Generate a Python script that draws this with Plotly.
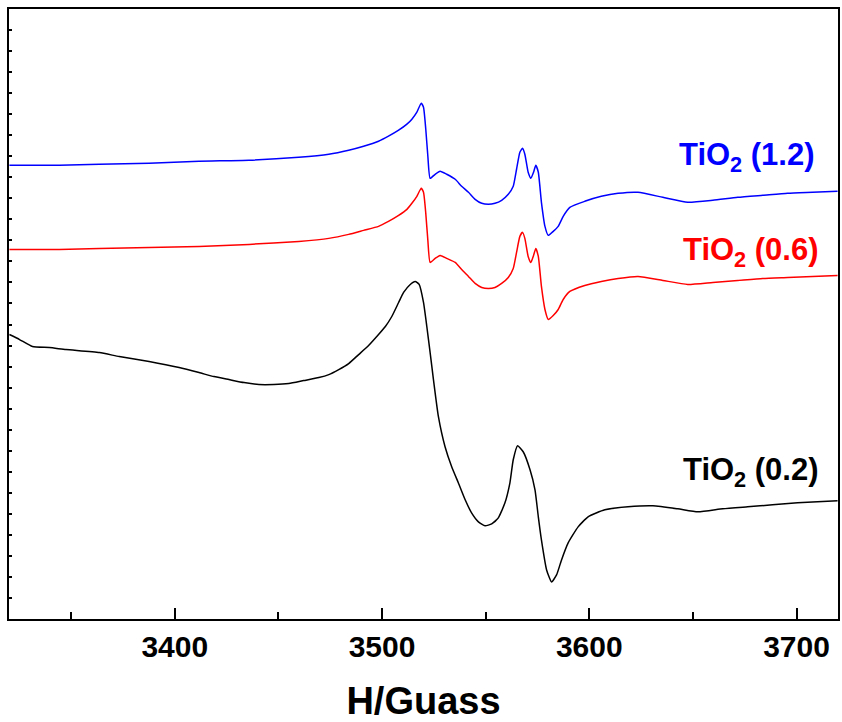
import plotly.graph_objects as go

# Magnetic field (Gauss) and EPR signal intensity (arbitrary units)
field_hi = [3320.2, 3344.3, 3363.6, 3387.6, 3411.7, 3435.8, 3459.8, 3474.3, 3483.9, 3491.1,
            3498.3, 3503.1, 3508.0, 3512.0, 3514.4, 3516.8, 3518.9, 3520.0, 3521.1, 3522.1,
            3523.2, 3525.6, 3528.0, 3531.2, 3535.3, 3538.4, 3541.7, 3544.9, 3548.1, 3551.3,
            3554.5, 3557.7, 3560.9, 3563.3, 3564.9, 3566.5, 3567.8, 3568.9, 3570.5, 3571.8,
            3573.1, 3574.2, 3575.4, 3576.9, 3578.6, 3580.2, 3582.6, 3585.0, 3587.4, 3590.6,
            3597.8, 3605.8, 3613.9, 3623.5, 3635.5, 3647.5, 3659.6, 3671.6, 3683.7, 3695.7,
            3707.7, 3719.8]
tio2_12 = [453, 453, 454, 455, 457, 458, 461, 464, 468, 472,
           477, 482, 488, 494, 499, 506, 515, 511, 489, 462,
           440, 444, 447, 444, 439, 432, 426, 419, 415, 414,
           415, 418, 424, 432, 449, 466, 470, 464, 446, 440,
           446, 453, 446, 416, 392, 383, 387, 392, 402, 411,
           417, 422, 425, 426, 421, 416, 418, 421, 423, 425,
           426, 427]
tio2_06 = [369, 369, 370, 371, 372, 374, 377, 380, 384, 388,
           392, 397, 403, 409, 415, 422, 430, 426, 405, 378,
           356, 360, 363, 360, 356, 349, 342, 335, 331, 330,
           331, 335, 341, 350, 366, 382, 386, 380, 362, 356,
           363, 370, 362, 332, 309, 299, 303, 309, 319, 327,
           333, 337, 340, 342, 338, 334, 336, 338, 340, 341,
           342, 343]

field_lo = [3320.2, 3325.1, 3331.3, 3339.5, 3347.5, 3363.6, 3373.2, 3387.6, 3402.1, 3411.7,
            3418.9, 3426.1, 3433.4, 3440.6, 3447.8, 3455.0, 3462.2, 3469.5, 3474.3, 3479.1,
            3483.9, 3488.7, 3493.5, 3498.3, 3501.6, 3504.7, 3508.0, 3510.4, 3513.6, 3516.0,
            3517.9, 3520.0, 3521.6, 3523.2, 3524.8, 3527.2, 3530.4, 3533.6, 3536.8, 3540.1,
            3543.2, 3546.5, 3549.7, 3552.9, 3556.1, 3559.3, 3561.7, 3563.3, 3565.4, 3568.1,
            3571.4, 3573.8, 3575.4, 3576.9, 3579.4, 3581.8, 3584.2, 3586.6, 3589.8, 3594.6,
            3599.4, 3607.5, 3618.7, 3630.7, 3642.7, 3652.4, 3664.4, 3676.4, 3688.4, 3700.5,
            3710.1, 3719.8]
tio2_02 = [284, 279, 272, 271, 269, 266, 262, 257, 251, 246,
           242, 239, 236, 234, 234, 235, 238, 241, 244, 249,
           255, 264, 273, 284, 292, 302, 316, 326, 334, 337,
           334, 316, 292, 266, 239, 202, 172, 152, 136, 119,
           106, 97, 93, 95, 101, 116, 136, 159, 173, 167,
           149, 129, 102, 79, 49, 37, 44, 59, 76, 92,
           102, 109, 112, 113, 110, 107, 110, 112, 114, 116,
           117, 118]

labels = ["TiO<sub>2</sub> (1.2)", "TiO<sub>2</sub> (0.6)", "TiO<sub>2</sub> (0.2)"]
colors = ["#0000ff", "#ff0000", "#000000"]
label_y = [461, 366, 147]
label_x = [3710, 3712, 3712]

x_ticks = [3400, 3500, 3600, 3700]
x_minor = [3350, 3450, 3550, 3650]

fig = go.Figure()
for xs, ys, c in [(field_hi, tio2_12, colors[0]),
                  (field_hi, tio2_06, colors[1]),
                  (field_lo, tio2_02, colors[2])]:
    fig.add_trace(go.Scatter(x=xs, y=ys, mode="lines",
                             line=dict(color=c, width=1.5, shape="spline", smoothing=0.5),
                             showlegend=False))

for txt, c, xv, yv in zip(labels, colors, label_x, label_y):
    fig.add_annotation(x=xv, y=yv, text=f"<b>{txt}</b>", showarrow=False,
                       xanchor="right", yanchor="middle",
                       font=dict(family="Liberation Sans, Arial", size=31, color=c))

fig.update_layout(
    width=842, height=722,
    margin=dict(l=9, r=2, t=9, b=103),
    paper_bgcolor="white", plot_bgcolor="white",
    font=dict(family="Liberation Sans, Arial", color="black"),
    xaxis=dict(
        range=[3320, 3720], tickvals=x_ticks, ticktext=[f"<b>{v}</b>" for v in x_ticks],
        ticks="inside", ticklen=11, tickwidth=2, tickcolor="black",
        minor=dict(tickvals=x_minor, ticks="inside", ticklen=7, tickwidth=2, tickcolor="black"),
        showline=True, linewidth=2, linecolor="black", mirror=True,
        showgrid=False, zeroline=False,
        tickfont=dict(size=30, family="Liberation Sans, Arial"),
        title=dict(text="<b>H/Guass</b>", font=dict(size=38, family="Liberation Sans, Arial"),
                   standoff=25),
    ),
    yaxis=dict(
        range=[0, 609], dtick=21, tick0=0, showticklabels=False,
        ticks="inside", ticklen=3, tickwidth=1.5, tickcolor="black",
        showline=True, linewidth=2, linecolor="black", mirror=True,
        showgrid=False, zeroline=False,
    ),
)

fig.write_html("out.html")
